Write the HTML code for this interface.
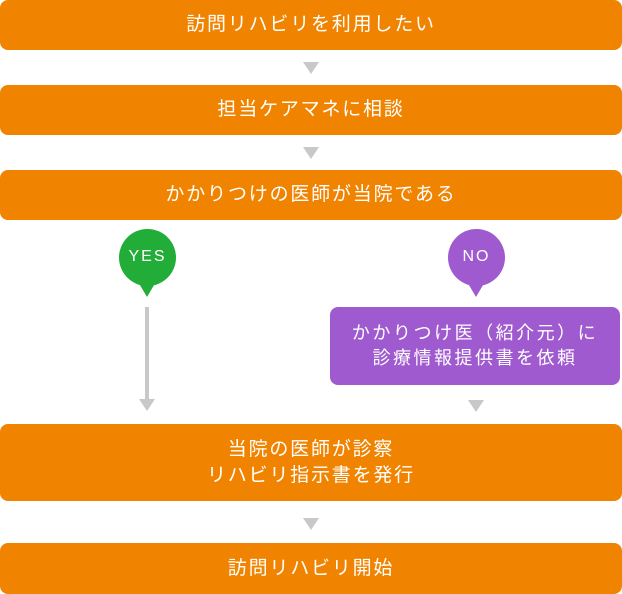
<!DOCTYPE html>
<html><head><meta charset="utf-8"><style>
body{margin:0;width:622px;height:594px;background:#fff;position:relative;overflow:hidden;font-family:"Liberation Sans","Noto Sans CJK JP",sans-serif;}
.b{position:absolute;left:0;width:622px;background:#f08300;border-radius:8px;color:#fff;font-size:19px;letter-spacing:1.8px;display:flex;align-items:center;justify-content:center;text-align:center;line-height:26px;}
.t{position:absolute;width:0;height:0;border-left:8px solid transparent;border-right:8px solid transparent;border-top:12px solid #c8c8c8;}
.c{position:absolute;width:57px;height:57px;border-radius:50%;color:#fff;font-size:16px;letter-spacing:2px;display:flex;align-items:center;justify-content:center;box-sizing:border-box;padding-bottom:2px;}
.p{position:absolute;width:0;height:0;border-left:10px solid transparent;border-right:10px solid transparent;}
</style></head><body>
<div class="b" style="top:0;height:50px">訪問リハビリを利用したい</div>
<div class="t" style="left:303px;top:62px"></div>
<div class="b" style="top:85px;height:50px">担当ケアマネに相談</div>
<div class="t" style="left:303px;top:147px"></div>
<div class="b" style="top:170px;height:50px">かかりつけの医師が当院である</div>
<div class="c" style="left:119px;top:229px;background:#22ac38">YES</div>
<div class="p" style="left:137px;top:280px;border-top:17px solid #22ac38"></div>
<div class="c" style="left:448px;top:229px;background:#a05acf">NO</div>
<div class="p" style="left:466px;top:280px;border-top:17px solid #a05acf"></div>
<div style="position:absolute;left:145px;top:307px;width:4px;height:92px;background:#c8c8c8"></div>
<div class="t" style="left:139px;top:399px"></div>
<div class="b" style="left:330px;width:290px;top:307px;height:78px;background:#a05acf;font-size:18px;letter-spacing:2.5px;line-height:25px">かかりつけ医（紹介元）に<br>診療情報提供書を依頼</div>
<div class="t" style="left:468px;top:400px"></div>
<div class="b" style="top:424px;height:77px">当院の医師が診察<br>リハビリ指示書を発行</div>
<div class="t" style="left:303px;top:518px"></div>
<div class="b" style="top:543px;height:51px">訪問リハビリ開始</div>
</body></html>
